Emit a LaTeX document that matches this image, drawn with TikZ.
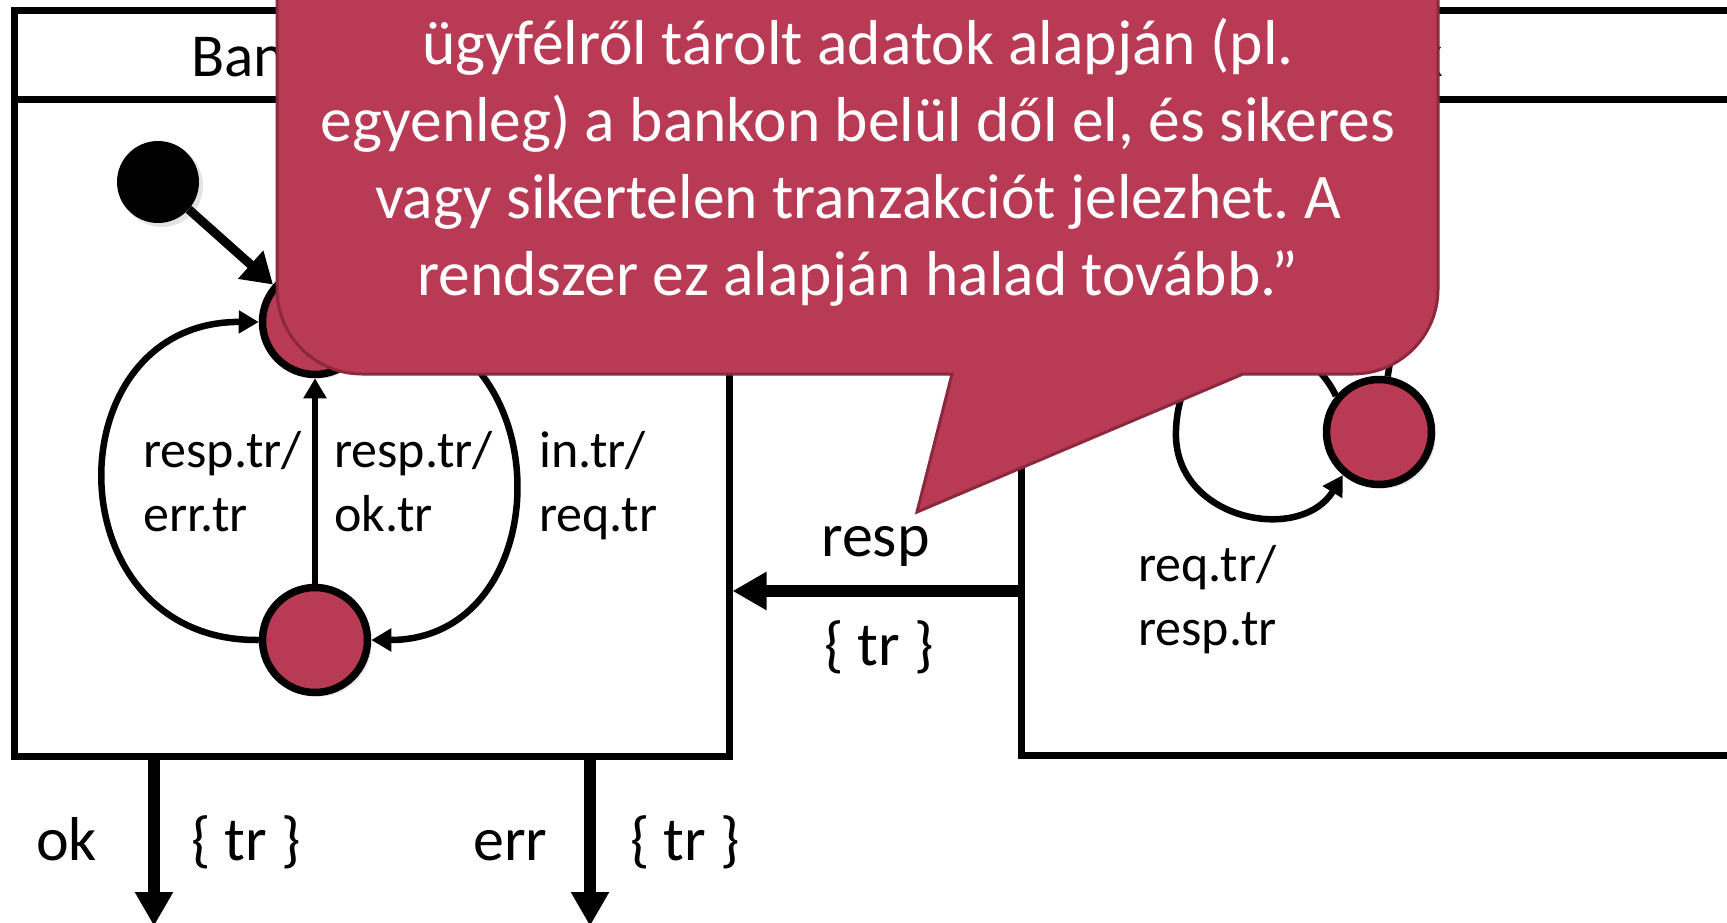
\documentclass[tikz,border=0pt]{standalone}
\usepackage{fontspec}
\setmainfont{Carlito}
\usetikzlibrary{arrows.meta,shadows}
\definecolor{crim}{RGB}{184,58,84}
\definecolor{crimdark}{RGB}{139,40,62}
\frenchspacing
\begin{document}
\begin{tikzpicture}[x=1pt,y=-1pt,
  shd/.style={drop shadow={opacity=0.22, shadow xshift=4pt, shadow yshift=-4pt}},
  box/.style={draw, line width=7pt, fill=white, rectangle, inner sep=0pt, shd},
  state/.style={circle, draw, line width=7.5pt, fill=crim, minimum size=105pt, inner sep=0pt, shd},
  initdot/.style={circle, fill=black, minimum size=82pt, inner sep=0pt, shd},
  trans/.style={draw, line width=6.5pt, -{Triangle[length=20pt,width=22pt]}},
  inarrow/.style={draw, line width=9pt, -{Triangle[length=30pt,width=36pt]}},
  port/.style={draw, line width=12pt, -{Triangle[length=34pt,width=36pt]}},
  lbl/.style={font=\fontsize{52}{63}\selectfont, inner sep=0pt, anchor=base west},
  plbl/.style={font=\fontsize{62}{74}\selectfont, inner sep=0pt, anchor=base west},
  ttl/.style={font=\fontsize{61}{74}\selectfont, inner sep=0pt, anchor=base},
  ctext/.style={font=\fontsize{63.5}{77}\selectfont, text=white, inner sep=0pt, anchor=base},
]
\useasboundingbox (0,0) rectangle (1727,923);

% boxes
\node[box, minimum width=715pt, minimum height=745pt] (bankA) at (371.5,383.5) {};
\node[box, minimum width=726pt, minimum height=744pt] (bankB) at (1384,383) {};
\coordinate (sep) at (0,100);
\draw[line width=7pt] (bankA.west |- sep) -- (bankA.east |- sep);
\draw[line width=7pt] (bankB.west |- sep) -- (bankB.east |- sep);
\node[ttl] (tA) at (371.5,77) {Bankautomata};
\node[ttl] (tB) at (1382,77) {Bank};

% states
\node[initdot] (i1) at (158,182) {};
\node[state] (s1) at (315,322) {};
\node[state] (s2) at (315,640) {};
\node[state] (s3) at (1379,432) {};

% transitions
\draw[inarrow] (i1) -- (s1);
\draw[trans] (s2) -- (s1);
\draw[trans] (s2.west) .. controls (52,642) and (52,321) .. (s1.west);
\draw[trans] (s1.east) .. controls (563,322) and (563,640) .. (s2.east);
\coordinate (lp) at (1176,430);
\draw[trans] (s3.140) .. controls (1300,320) and (1180,320) .. (lp)
  .. controls (1172,520) and (1300,545) .. (s3.230);
\coordinate (h3) at (1395,330);
\draw[line width=6.5pt] (h3) -- (s3);

% transition labels
\node[lbl] (l1a) at (143,467) {resp.tr/};
\node[lbl] (l1b) at (143,531) {err.tr};
\node[lbl] (l2a) at (334,467) {resp.tr/};
\node[lbl] (l2b) at (334,531) {ok.tr};
\node[lbl] (l3a) at (539,467) {in.tr/};
\node[lbl] (l3b) at (539,531) {req.tr};
\node[lbl] (l4a) at (1138,581) {req.tr/};
\node[lbl] (l4b) at (1138,645) {resp.tr};

% ports
\coordinate (okx) at (154,0);
\coordinate (okend) at (154,926);
\coordinate (errx) at (590,0);
\coordinate (errend) at (590,926);
\coordinate (respy) at (0,591);
\draw[port] (bankA.south -| okx) -- (okend);
\draw[port] (bankA.south -| errx) -- (errend);
\draw[port] (bankB.west |- respy) -- (bankA.east |- respy);
\node[plbl] (p1) at (36,860) {ok};
\node[plbl] (p2) at (191,860) {\{ tr \}};
\node[plbl] (p3) at (473,860) {err};
\node[plbl] (p4) at (630,860) {\{ tr \}};
\node[plbl] (p5) at (821,556) {resp};
\node[plbl] (p6) at (824,665) {\{ tr \}};

% callout
\filldraw[fill=crim, draw=crimdark, line width=3pt]
  (277,-20) -- (277,289) .. controls (277,336) and (315,374) .. (362,374)
  -- (952,374) -- (917,512) -- (1243,374) -- (1353,374)
  .. controls (1400,374) and (1438,336) .. (1438,289) -- (1438,-20) -- cycle;
\node[ctext] (c1) at (858,65) {ügyfélről tárolt adatok alapján (pl.};
\node[ctext] (c2) at (858,142) {egyenleg) a bankon belül dől el, és sikeres};
\node[ctext] (c3) at (858,218) {vagy sikertelen tranzakciót jelezhet. A};
\node[ctext] (c4) at (858,295) {rendszer ez alapján halad tovább.”};
\end{tikzpicture}
\end{document}
